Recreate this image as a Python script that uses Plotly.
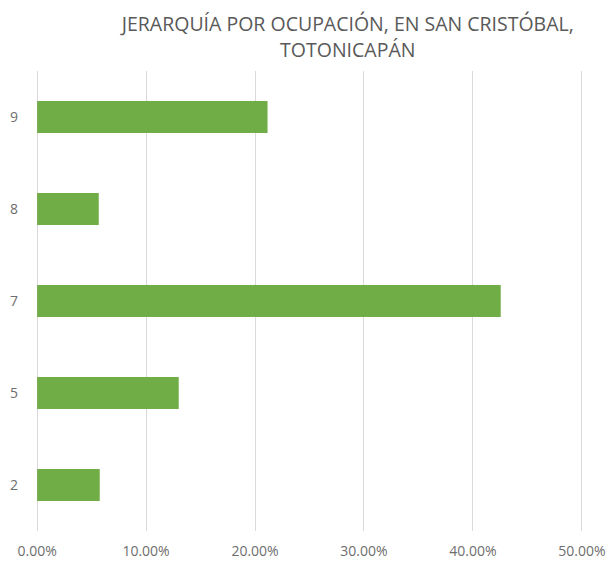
import plotly.graph_objects as go

categories = ["2", "5", "7", "8", "9"]
values = [0.0575, 0.130, 0.4255, 0.0566, 0.2115]
tick_vals = [0, 0.1, 0.2, 0.3, 0.4, 0.5]
title_text = "JERARQUÍA POR OCUPACIÓN, EN SAN CRISTÓBAL,<br>TOTONICAPÁN"

fig = go.Figure(go.Bar(
    x=values, y=categories, orientation="h",
    marker=dict(color="#70AD47", line=dict(width=0)),
    width=0.35,
))

fig.update_layout(
    width=608, height=562,
    margin=dict(l=36, r=25, t=71, b=31),
    paper_bgcolor="white", plot_bgcolor="white",
    font=dict(family="Open Sans, Calibri, sans-serif", color="#595959", size=14),
    title=dict(text=title_text, x=0.572, xanchor="center", y=0.944, yanchor="top",
               font=dict(size=19.5, color="#595959")),
    showlegend=False,
    bargap=0.65,
)
fig.update_xaxes(range=[-0.001, 0.501], tickvals=tick_vals, tickformat=".2%",
                 showgrid=True, gridcolor="#d9d9d9", gridwidth=1,
                 zeroline=False, showline=False, ticks="", automargin=False,
                 ticklabelstandoff=10,
                 tickfont=dict(size=14, color="#6e6e6e"))
fig.update_yaxes(type="category", categoryorder="array", categoryarray=categories,
                 showgrid=False, zeroline=False, showline=False, ticks="",
                 automargin=False, ticklabelstandoff=17,
                 tickfont=dict(size=14, color="#6e6e6e"))

fig.write_html("out.html", config={"displayModeBar": False},
               post_script="document.body.style.margin='0';")
